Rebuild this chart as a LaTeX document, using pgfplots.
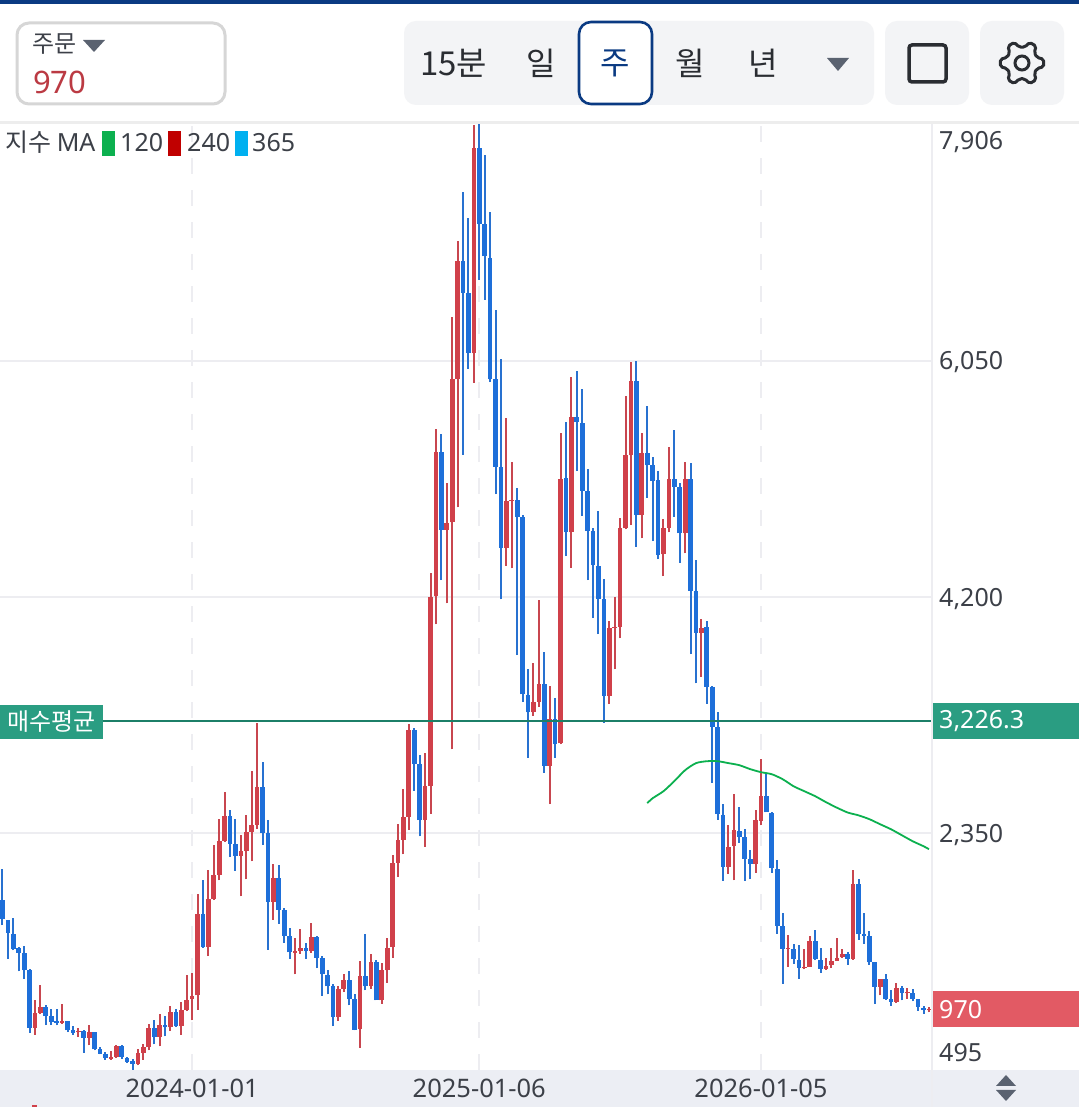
\documentclass[border=0pt]{standalone}
\usepackage{pgfplots}
\usepackage{pgfplotstable}
\usepackage{fontspec}
\pgfplotsset{compat=1.18}
\setmainfont{Noto Sans}
\newfontfamily\kr{Noto Sans CJK KR}
\newcommand\fs[1]{\fontsize{#1bp}{#1bp}\selectfont}
\definecolor{cred}{HTML}{D0404A}
\definecolor{cblue}{HTML}{1E6FD9}
\definecolor{navy}{HTML}{0A3A82}
\definecolor{panel}{HTML}{F3F4F6}
\definecolor{band}{HTML}{ECEEF4}
\definecolor{gridc}{HTML}{EDEDF1}
\definecolor{teal1}{HTML}{1C7F68}
\definecolor{teal2}{HTML}{2A9D82}
\definecolor{rbox}{HTML}{E25A64}
\definecolor{txt}{HTML}{3C4048}
\definecolor{tri}{HTML}{5A6270}
\definecolor{ma}{HTML}{0CB04F}
\definecolor{mared}{HTML}{C00000}
\definecolor{mablue}{HTML}{00B0F0}
\pgfplotstableread{
i high top bottom low
6 1041 941 826 772
7 1164 988 941 931
11 1009 881 866 858
14 826 798 790 753
16 850 790 748 688
20 641 596 583 576
21 688 683 596 591
25 662 628 544 531
26 701 672 628 576
27 858 824 672 649
29 931 850 753 680
31 994 947 829 800
33 1030 965 837 772
34 1237 1046 965 957
35 1258 1075 1051 884
36 1877 1715 1080 968
38 2065 1835 1459 1388
39 2256 2023 1835 1825
40 2465 2290 2023 1981
41 2671 2483 2290 2282
44 2339 2209 2175 1856
45 2496 2360 2209 1989
46 2836 2413 2360 2130
47 3217 2713 2413 2386
50 2112 2002 1812 1673
54 1532 1427 1414 1245
55 1603 1454 1427 1407
57 1650 1537 1427 1414
62 1150 1132 910 879
63 1250 1197 1132 1106
66 1349 1229 816 670
68 1407 1341 1150 1132
70 1336 1276 1041 1015
71 1532 1454 1276 1177
72 2183 2117 1459 1373
73 2420 2300 2117 2007
74 2697 2478 2300 2185
75 3202 3162 2478 2379
78 2982 2718 2452 2243
79 4386 4203 2719 2504
80 5514 5336 4208 3986
82 5096 4783 4728 4150
83 6392 5906 4785 3006
84 6993 6836 5906 4903
87 7900 7717 6110 5880
93 5600 4955 4587 4446
94 5256 4960 4952 4425
98 3680 3380 3296 3270
99 4177 3515 3380 3340
101 3502 3246 2880 2577
103 5483 5122 3053 3045
105 5927 5613 4707 4430
112 4014 3954 3424 3361
113 4202 3967 3954 3633
114 4822 4738 3967 3876
115 5775 5310 4738 4730
116 6039 5890 5310 4764
118 5483 5326 4843 4660
122 4811 4741 4534 4364
123 5373 5125 4743 4707
126 5261 5125 4699 4542
129 4025 3957 3920 3575
134 2418 2242 2086 2033
135 2661 2373 2250 1981
139 2530 2452 2107 2039
140 2930 2642 2446 2412
145 1551 1454 1444 1302
148 1446 1305 1292 1284
149 1545 1504 1305 1302
152 1376 1310 1289 1282
153 1454 1347 1316 1297
154 1532 1373 1352 1347
155 1446 1402 1378 1376
157 2065 1956 1365 1360
162 1211 1211 1148 1080
165 1180 1140 1028 1020
167 1138 1106 1096 1054
171 989 971 963 947
}\redtab
\pgfplotstableread{
i high top bottom low
0 2073 1825 1681 1629
1 1673 1668 1571 1367
2 1689 1563 1446 1433
3 1459 1448 1412 1268
4 1464 1412 1276 1211
5 1286 1281 826 785
8 1004 988 918 847
9 975 918 871 847
10 975 876 866 845
12 881 879 806 792
13 842 806 785 772
15 806 798 748 630
17 792 790 657 649
18 675 659 623 617
19 636 620 586 576
22 688 683 596 583
23 596 591 560 552
24 578 565 544 492
28 884 824 753 696
30 915 850 829 758
32 975 947 837 832
37 1987 1715 1459 1454
42 2530 2483 2269 2164
43 2460 2264 2175 2055
48 2909 2713 2352 2261
49 2452 2352 1812 1438
51 2099 2002 1751 1642
52 1767 1746 1545 1493
53 1610 1542 1417 1365
56 1493 1451 1427 1367
58 1542 1537 1373 1294
59 1388 1373 1245 1075
60 1281 1242 1150 1088
61 1171 1150 910 839
64 1271 1197 1051 1001
65 1093 1051 811 806
67 1563 1229 1150 1119
69 1359 1341 1041 1041
76 3173 3162 2896 2682
77 2961 2891 2452 2326
81 5475 5336 4728 4333
85 7377 6834 6585 5313
86 7173 6580 6110 5987
88 7908 7717 7124 6685
89 7665 7124 6868 6528
90 7215 6857 5906 5883
91 6450 5906 5221 5007
92 6063 5221 4587 4182
95 5052 4960 4827 3745
96 4843 4827 3437 3380
97 3636 3432 3296 2943
100 3766 3518 2880 2823
102 3411 3241 3047 2943
104 5574 5130 4707 4521
106 5974 5613 5569 5187
107 5830 5566 5031 4837
108 5201 5028 4717 4333
109 4738 4717 4451 4038
110 4871 4443 4187 3910
111 4338 4181 3424 3215
117 6052 5890 4843 4594
119 5697 5326 5232 4978
120 5300 5235 5109 4639
121 5190 5114 4529 4498
124 5509 5125 5065 4829
125 5091 5062 4699 4469
127 5248 5125 4249 3753
128 4490 4244 3920 3523
130 4012 3962 3497 3366
131 3505 3497 3183 2747
132 3301 3183 2499 2457
133 2582 2496 2086 1976
136 2556 2371 2321 2274
137 2386 2321 2151 1976
138 2216 2151 2107 1989
141 2823 2642 2514 2514
142 2514 2512 2078 2041
143 2144 2073 1624 1564
144 1728 1621 1446 1172
146 1485 1444 1363 1329
147 1472 1360 1295 1211
150 1595 1504 1363 1355
151 1454 1360 1289 1255
156 1420 1402 1368 1321
158 1990 1956 1559 1517
159 1726 1559 1548 1485
160 1582 1548 1339 1321
161 1342 1339 1148 1015
163 1245 1211 1049 1046
164 1120 1049 1028 997
166 1151 1140 1099 1041
168 1133 1099 1054 1033
169 1054 1052 989 958
170 994 984 965 937
}\bluetab
\begin{document}
\begin{tikzpicture}[x=1bp,y=1bp]
\path[use as bounding box] (0,0) rectangle (1079,1107);
\fill[white] (0,0) rectangle (1079,1107);
% top UI
\fill[navy] (0,1102.5) rectangle (1079,1107);
\draw[draw=black!16,line width=3bp,rounded corners=12bp] (17,1084) rectangle (225,1003);
\node[anchor=west,inner sep=0pt,text=txt] at (32,1063) {\kr\fs{24}주문};
\fill[tri] (83,1067) -- (105,1067) -- (94,1055) -- cycle;
\node[anchor=west,inner sep=0pt,text=cred!90!black] at (33,1025) {\fs{31}970};
\fill[panel,rounded corners=12bp] (404,1086) rectangle (874,1002);
\node[anchor=west,inner sep=0pt,text=txt!70!black] at (420,1044) {\kr\fs{33}15분};
\node[inner sep=0pt,text=txt!70!black] at (541,1044) {\kr\fs{32}일};
\fill[white,rounded corners=12bp] (579,1085) rectangle (652,1003);
\draw[navy,line width=2.6bp,rounded corners=12bp] (579,1085) rectangle (652,1003);
\node[inner sep=0pt,text=navy] at (615,1044) {\kr\fs{32}주};
\node[inner sep=0pt,text=txt!70!black] at (690,1044) {\kr\fs{32}월};
\node[inner sep=0pt,text=txt!70!black] at (763,1044) {\kr\fs{32}년};
\fill[tri] (827,1049) -- (849,1049) -- (838,1036) -- cycle;
\fill[panel,rounded corners=12bp] (885,1086) rectangle (969,1002);
\draw[txt!70!black,line width=3.5bp,rounded corners=3bp] (909,1062) rectangle (946,1025);
\fill[panel,rounded corners=12bp] (980,1086) rectangle (1064,1002);
\begin{scope}[shift={(1022,1044)}]
\draw[txt!70!black,line width=3bp,line join=round,rounded corners=2bp]
 (-10:22) \foreach \a in {0,60,120,180,240,300}{ -- (\a+10:22) -- (\a+20:16) -- (\a+40:16) -- (\a+50:22)} -- cycle;
\draw[txt!70!black,line width=3bp] (0,0) circle (7);
\end{scope}
\fill[black!7] (0,983) rectangle (1079,985.5);
% bottom band
\fill[band] (0,0) rectangle (1079,37);
\begin{axis}[
 at={(0bp,37bp)},anchor=south west,scale only axis,width=931bp,height=946bp,
 xmin=-0.46,xmax=171.38,ymin=495,ymax=7906,
 axis line style={draw=none},tick style={draw=none},major tick length=0pt,
 xtick={35,88,140},xticklabels={2024-01-01,2025-01-06,2026-01-05},
 ytick={2350,4200,6050},yticklabel pos=right,
 /pgf/number format/assume math mode=true,
 /pgf/number format/1000 sep={,},
 tick label style={font=\fs{25},text=txt},
 xticklabel style={font=\fs{25.5},inner sep=0pt,anchor=north,yshift=-9bp},
 yticklabel style={inner sep=0pt,anchor=west,xshift=8bp,yshift=-1.5bp},
 grid=major,
 x grid style={gridc,line width=2.4bp,dash pattern=on 16bp off 16bp},
 y grid style={gridc,line width=2.4bp},
]
\addplot[forget plot,draw=none,mark=none,error bars/.cd,y dir=plus,y explicit,error mark=none,error bar style={line width=2bp,color=cred!90!gray}]
 table[x=i,y=low,y error expr=\thisrow{high}-\thisrow{low}] {\redtab};
\addplot[forget plot,draw=none,mark=none,error bars/.cd,y dir=plus,y explicit,error mark=none,error bar style={line width=4.7bp,color=cred}]
 table[x=i,y=bottom,y error expr=\thisrow{top}-\thisrow{bottom}] {\redtab};
\addplot[forget plot,draw=none,mark=none,error bars/.cd,y dir=plus,y explicit,error mark=none,error bar style={line width=2bp,color=cblue!90!gray}]
 table[x=i,y=low,y error expr=\thisrow{high}-\thisrow{low}] {\bluetab};
\addplot[forget plot,draw=none,mark=none,error bars/.cd,y dir=plus,y explicit,error mark=none,error bar style={line width=4.7bp,color=cblue}]
 table[x=i,y=bottom,y error expr=\thisrow{top}-\thisrow{bottom}] {\bluetab};
\addplot[ma,line width=1.8bp,mark=none,smooth,tension=0.4] coordinates {
(119,2585)(120,2624)(122,2679)(124,2758)(126,2844)(128,2899)(130,2914)(132,2914)(134,2899)(136,2883)(138,2852)(140,2828)(142,2812)(144,2773)(146,2718)(148,2679)(150,2640)(152,2593)(154,2550)(156,2512)(158,2490)(160,2460)(162,2420)(164,2381)(166,2334)(168,2287)(170,2248)(171,2225)};
\addplot[teal1,line width=2bp,mark=none] coordinates {(-0.46,3226.3)(171.38,3226.3)};
\end{axis}
% right rule
\fill[gridc] (930.8,0) rectangle (933,983);
% legend
\node[anchor=west,inner sep=0pt,text=txt] at (5,965) {\kr\fs{25}지수 \rmfamily MA};
\fill[ma] (102,951) rectangle (115,976);
\node[anchor=west,inner sep=0pt,text=txt] at (120,964.5) {\fs{25}120};
\fill[mared] (168,951) rectangle (181,976);
\node[anchor=west,inner sep=0pt,text=txt] at (187,964.5) {\fs{25}240};
\fill[mablue] (235,951) rectangle (248,976);
\node[anchor=west,inner sep=0pt,text=txt] at (252,964.5) {\fs{25}365};
% price labels
\node[anchor=west,inner sep=0pt,text=txt] at (939,964.5) {\fs{25}7,906};
\node[anchor=west,inner sep=0pt,text=txt] at (939,54.5) {\fs{25}495};
\fill[teal2] (0,368) rectangle (103,402);
\node[anchor=west,inner sep=0pt,text=white] at (7,385) {\kr\fs{24}매수평균};
\fill[teal2] (933,368) rectangle (1079,404);
\node[anchor=west,inner sep=0pt,text=white] at (939,385.5) {\fs{25}3,226.3};
\fill[rbox] (933,80) rectangle (1079,116);
\node[anchor=west,inner sep=0pt,text=white] at (939,97.5) {\fs{25}970};
% scroll arrows
\fill[tri] (996,21) -- (1016,21) -- (1006,32) -- cycle;
\fill[tri] (996,17) -- (1016,17) -- (1006,6) -- cycle;
\fill[cred] (32,0) rectangle (37,2);
\end{tikzpicture}
\end{document}
